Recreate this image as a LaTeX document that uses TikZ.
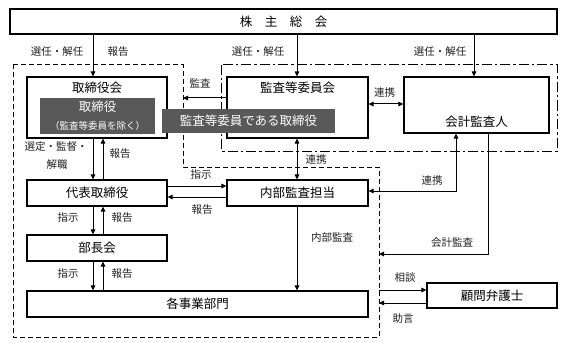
\documentclass[tikz,border=0pt]{standalone}
\usepackage{fontspec}
\setmainfont{Noto Sans CJK JP}
\usetikzlibrary{arrows.meta}
\definecolor{darkfill}{HTML}{595959}
\definecolor{lbl}{HTML}{222222}
\tikzset{
  box/.style={draw=black, line width=1.1pt, fill=white, rectangle, inner sep=0pt},
  darkbox/.style={fill=darkfill, rectangle, inner sep=0pt, text=white},
  boxtext/.style={font=\fontsize{12.5}{14}\selectfont, inner sep=0pt},
  lab/.style={font=\fontsize{10.5}{12}\selectfont, text=lbl, inner sep=0pt},
  conn/.style={line width=1pt, draw=black},
  arr/.style={conn, -{Triangle[length=5pt,width=4.5pt]}},
  darr/.style={conn, {Triangle[length=5pt,width=4.5pt]}-{Triangle[length=5pt,width=4.5pt]}},
  regdash/.style={line width=1pt, dash pattern=on 5pt off 3pt},
  regdashdot/.style={line width=1pt, dash pattern=on 10pt off 3pt on 2.5pt off 3pt},
}
\begin{document}
\begin{tikzpicture}[x=1pt,y=-1pt]
\useasboundingbox (0,0) rectangle (580,350);
\fill[white] (0,0) rectangle (580,350);

% regions
\draw[regdash] (13,65) -- (183,65) -- (183,167) -- (379,167) -- (379,337) -- (13,337) -- cycle;
\draw[regdashdot] (221,65) rectangle (557,151);

% boxes
\node[box, minimum width=547pt, minimum height=25pt, boxtext] (kabu) at (283.5,21.5) {株　主　総　会};
\node[box, minimum width=140pt, minimum height=61pt] (torikai) at (97,107.5) {};
\node[boxtext] (torikaiT) at (97,88) {取締役会};
\node[darkbox, minimum width=115pt, minimum height=36pt] (tori) at (97.5,116) {};
\node[boxtext, text=white] (toriT) at (97.5,107) {取締役};
\node[lab, text=white, font=\fontsize{9.5}{11}\selectfont] (toriS) at (97.5,126) {（監査等委員を除く）};
\node[box, minimum width=141pt, minimum height=61pt] (kansakai) at (297.5,107.5) {};
\node[boxtext] (kansakaiT) at (297.5,87.5) {監査等委員会};
\node[box, minimum width=145pt, minimum height=56pt] (kaikei) at (476.5,105) {};
\node[boxtext] (kaikeiT) at (476.5,121.5) {会計監査人};
\node[box, minimum width=140pt, minimum height=26pt, boxtext] (daihyo) at (97,193) {代表取締役};
\node[box, minimum width=141pt, minimum height=26pt, boxtext] (naibu) at (297.5,193) {内部監査担当};
\node[box, minimum width=140pt, minimum height=26pt, boxtext] (bucho) at (97,248) {部長会};
\node[box, minimum width=341pt, minimum height=26pt, boxtext] (jigyo) at (197.5,304) {各事業部門};
\node[box, minimum width=130pt, minimum height=25pt, boxtext] (komon) at (492,295.5) {顧問弁護士};

% free ends on the dashed region border
\coordinate (dKansa) at (183,98);
\coordinate (dKaikei) at (379,254);
\coordinate (dSodan) at (379,290);
\coordinate (dJogen) at (379,303);
\coordinate (cRenkei) at (456,191);
\coordinate (cKaikei) at (488,254);

% connectors
\draw[arr] (kabu.south -| 93,0) -- (torikai.north -| 93,0);
\draw[arr] (kabu.south -| 297,0) -- (kansakai.north -| 297,0);
\draw[arr] (kabu.south -| 474,0) -- (kaikei.north -| 474,0);
\draw[arr] (kansakai.west |- dKansa) -- (dKansa);
\draw[darr] (kansakai.east |- 0,104) -- (kaikei.west |- 0,104);
\draw[darr] (kansakai.south -| 297,0) -- (naibu.north -| 297,0);
\draw[arr] (torikai.south -| 93,0) -- (daihyo.north -| 93,0);
\draw[arr] (daihyo.north -| 103,0) -- (torikai.south -| 103,0);
\draw[arr] (daihyo.east |- 0,186) -- (naibu.west |- 0,186);
\draw[arr] (naibu.west |- 0,197) -- (daihyo.east |- 0,197);
\draw[darr] (naibu.east |- cRenkei) -- (cRenkei) -- (kaikei.south -| cRenkei);
\draw[arr] (kaikei.south -| cKaikei) -- (cKaikei) -- (dKaikei);
\draw[arr] (daihyo.south -| 93,0) -- (bucho.north -| 93,0);
\draw[arr] (bucho.north -| 103,0) -- (daihyo.south -| 103,0);
\draw[arr] (bucho.south -| 93,0) -- (jigyo.north -| 93,0);
\draw[arr] (jigyo.north -| 103,0) -- (bucho.south -| 103,0);
\draw[arr] (naibu.south -| 297,0) -- (jigyo.north -| 297,0);
\draw[arr] (dSodan) -- (komon.west |- dSodan);
\draw[arr] (komon.west |- dJogen) -- (dJogen);

% dark overlay box
\node[darkbox, minimum width=173pt, minimum height=24pt, boxtext, text=white] (kansatori) at (248.5,121) {監査等委員である取締役};

% labels
\node[lab] (l1) at (57,52) {選任・解任};
\node[lab] (l2) at (118,52) {報告};
\node[lab] (l3) at (258,52) {選任・解任};
\node[lab] (l4) at (440,52) {選任・解任};
\node[lab] (l5) at (200,83.5) {監査};
\node[lab] (l6) at (384.5,92.5) {連携};
\node[lab] (l7) at (316,160) {連携};
\node[lab] (l8) at (56,147) {選定・監督・};
\node[lab] (l9) at (57,164.5) {解職};
\node[lab] (l10) at (120,154) {報告};
\node[lab] (l11) at (201,175) {指示};
\node[lab] (l12) at (202,210) {報告};
\node[lab] (l13) at (432,181) {連携};
\node[lab] (l14) at (452,243) {会計監査};
\node[lab] (l15) at (332,238) {内部監査};
\node[lab] (l16) at (68,218) {指示};
\node[lab] (l17) at (122,218) {報告};
\node[lab] (l18) at (68,274) {指示};
\node[lab] (l19) at (122,274) {報告};
\node[lab] (l20) at (405,278) {相談};
\node[lab] (l21) at (403,318.5) {助言};
\end{tikzpicture}
\end{document}
